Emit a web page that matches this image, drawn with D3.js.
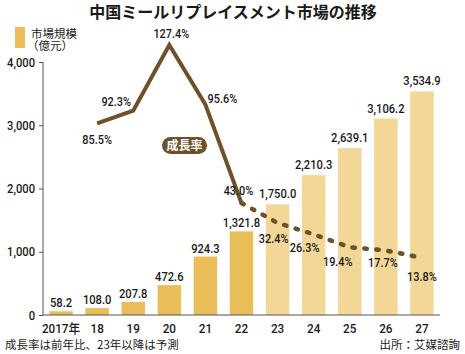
<!DOCTYPE html>
<html>
<head>
<meta charset="utf-8">
<script src="https://cdn.jsdelivr.net/npm/d3@7"></script>
<style>
  body { margin: 0; background: #fff; }
  svg { display: block; }
</style>
</head>
<body>
<svg id="chart" width="465" height="354"></svg>
<script>
// ─── Data ────────────────────────────────────────────────────────────────────
const years      = ['2017年', '18', '19', '20', '21', '22', '23', '24', '25', '26', '27'];
const marketSize = [58.2, 108.0, 207.8, 472.6, 924.3, 1321.8, 1750.0, 2210.3, 2639.1, 3106.2, 3534.9];
const isForecast = [false, false, false, false, false, false, true, true, true, true, true];
// growth rate starts in 2018
const rateYears  = ['18', '19', '20', '21', '22', '23', '24', '25', '26', '27'];
const growthRate = [85.5, 92.3, 127.4, 95.6, 43.0, 32.4, 26.3, 19.4, 17.7, 13.8];
const yTicks     = [0, 1000, 2000, 3000, 4000];

// ─── Theme ───────────────────────────────────────────────────────────────────
const theme = {
  barActual:   '#e9bd57',
  barForecast: '#f3d797',
  line:        '#6e5029',
  text:        '#1a1a1a',
  axis:        '#555',
  numFont:     'Roboto, "Noto Sans CJK JP", sans-serif',
  jpFont:      '"Noto Sans CJK JP", sans-serif'
};

const svg = d3.select('#chart');

// Squeeze text horizontally to mimic the narrow face of the original
function condense(sel, sx = 0.86) {
  sel.each(function () {
    const t = d3.select(this);
    const x = +t.attr('x') || 0, y = +t.attr('y') || 0;
    t.attr('transform', `translate(${x},${y}) scale(${sx},1)`).attr('x', 0).attr('y', 0);
  });
}

// ─── Scales ──────────────────────────────────────────────────────────────────
const x = d3.scaleBand().domain(years).range([43, 440]).paddingInner(0.35).paddingOuter(0.175);
const y = d3.scaleLinear().domain([0, 4000]).range([315, 62]);
const yRate = d3.scaleLinear().domain([0, 127.4]).range([283.6, 45]);
const cx = d => x(d) + x.bandwidth() / 2;

// ─── Title ───────────────────────────────────────────────────────────────────
svg.append('text')
  .attr('x', 233).attr('y', 18)
  .attr('text-anchor', 'middle')
  .attr('fill', theme.text)
  .style('font-family', theme.jpFont)
  .style('font-size', '16px')
  .style('font-weight', 'bold')
  .text('中国ミールリプレイスメント市場の推移');

// ─── Legend ──────────────────────────────────────────────────────────────────
svg.append('rect')
  .attr('x', 15).attr('y', 27).attr('width', 10).attr('height', 21)
  .attr('fill', theme.barActual);
svg.append('text')
  .attr('x', 31).attr('y', 37.5)
  .attr('fill', theme.text)
  .style('font-family', theme.jpFont).style('font-size', '11.5px')
  .text('市場規模');
svg.append('text')
  .attr('x', 27).attr('y', 49.5)
  .attr('fill', theme.text)
  .style('font-family', theme.jpFont).style('font-size', '11.5px')
  .text('（億元）');

// ─── Bars ────────────────────────────────────────────────────────────────────
const bars = years.map((yr, i) => ({ yr, value: marketSize[i], forecast: isForecast[i] }));

svg.append('g').selectAll('rect')
  .data(bars)
  .join('rect')
  .attr('x', d => x(d.yr))
  .attr('y', d => y(d.value))
  .attr('width', x.bandwidth())
  .attr('height', d => y(0) - y(d.value))
  .attr('fill', d => d.forecast ? theme.barForecast : theme.barActual);

svg.append('g').selectAll('text')
  .data(bars)
  .join('text')
  .attr('x', d => cx(d.yr))
  .attr('y', d => y(d.value) - (d.forecast ? 6 : 4))
  .attr('text-anchor', 'middle')
  .attr('fill', theme.text)
  .style('font-family', theme.numFont)
  .style('font-size', '13px')
  .style('font-weight', 500)
  .text(d => d3.format(',.1f')(d.value))
  .call(condense);

// ─── Axes ────────────────────────────────────────────────────────────────────
svg.append('g')
  .attr('transform', 'translate(43,0)')
  .call(d3.axisLeft(y).tickValues(yTicks).tickSize(4).tickPadding(4).tickFormat(d3.format(',')))
  .call(sel => {
    sel.select('.domain').attr('stroke', theme.axis).attr('d', `M0,${y(0)}V${y(4000)}`);
    sel.selectAll('line').attr('stroke', theme.axis);
    sel.selectAll('text')
      .attr('fill', theme.text)
      .style('font-family', theme.numFont)
      .style('font-size', '13px')
      .style('font-weight', 500)
      .call(condense);
  });

svg.append('line')
  .attr('x1', 43).attr('x2', 440)
  .attr('y1', y(0)).attr('y2', y(0))
  .attr('stroke', theme.axis);

svg.append('g').selectAll('text')
  .data(years)
  .join('text')
  .attr('x', d => cx(d))
  .attr('y', 333)
  .attr('text-anchor', 'middle')
  .attr('fill', theme.text)
  .style('font-family', theme.numFont)
  .style('font-size', '13px')
  .style('font-weight', 500)
  .text(d => d)
  .call(condense, 0.9);

// ─── Growth rate line ────────────────────────────────────────────────────────
const pts = rateYears.map((yr, i) => ({ yr, rate: growthRate[i] }));
const line = d3.line().x(d => cx(d.yr)).y(d => yRate(d.rate));
const splitAt = rateYears.indexOf('22');

svg.append('path')
  .attr('d', line(pts.slice(splitAt)))
  .attr('fill', 'none')
  .attr('stroke', theme.line)
  .attr('stroke-width', 4.5)
  .attr('stroke-linecap', 'round')
  .attr('stroke-dasharray', '2.5 9.5');

svg.append('path')
  .attr('d', line(pts.slice(0, splitAt + 1)))
  .attr('fill', 'none')
  .attr('stroke', theme.line)
  .attr('stroke-width', 4)
  .attr('stroke-linejoin', 'miter');

// label offsets relative to each point [dx, dy]
const rateLabelOffset = {
  '18': [0, 21], '19': [-17, -5], '20': [2, -7], '21': [17, -2], '22': [-3, -8],
  '23': [-4, 20], '24': [-9, 18], '25': [-12, 19], '26': [-3, 17], '27': [0, 23]
};

svg.append('g').selectAll('text')
  .data(pts)
  .join('text')
  .attr('x', d => cx(d.yr) + rateLabelOffset[d.yr][0])
  .attr('y', d => yRate(d.rate) + rateLabelOffset[d.yr][1])
  .attr('text-anchor', 'middle')
  .attr('fill', theme.text)
  .style('font-family', theme.numFont)
  .style('font-size', '13px')
  .style('font-weight', 500)
  .text(d => d3.format('.1f')(d.rate) + '%')
  .call(condense, 0.84);

// badge
const badge = svg.append('g').attr('transform', 'translate(184.5,145.5)');
badge.append('rect')
  .attr('x', -22.5).attr('y', -8.5).attr('width', 45).attr('height', 17)
  .attr('rx', 8.5)
  .attr('fill', theme.line);
badge.append('text')
  .attr('y', 4.5)
  .attr('text-anchor', 'middle')
  .attr('fill', '#fff')
  .style('font-family', theme.jpFont)
  .style('font-size', '12px')
  .style('font-weight', 'bold')
  .text('成長率');

// ─── Footer ──────────────────────────────────────────────────────────────────
svg.append('text')
  .attr('x', 5).attr('y', 349)
  .attr('fill', theme.text)
  .style('font-family', theme.jpFont).style('font-size', '11.5px')
  .text('成長率は前年比、23年以降は予測');
svg.append('text')
  .attr('x', 460).attr('y', 349)
  .attr('text-anchor', 'end')
  .attr('fill', theme.text)
  .style('font-family', theme.jpFont).style('font-size', '11.5px')
  .text('出所：艾媒諮詢');
</script>
</body>
</html>
